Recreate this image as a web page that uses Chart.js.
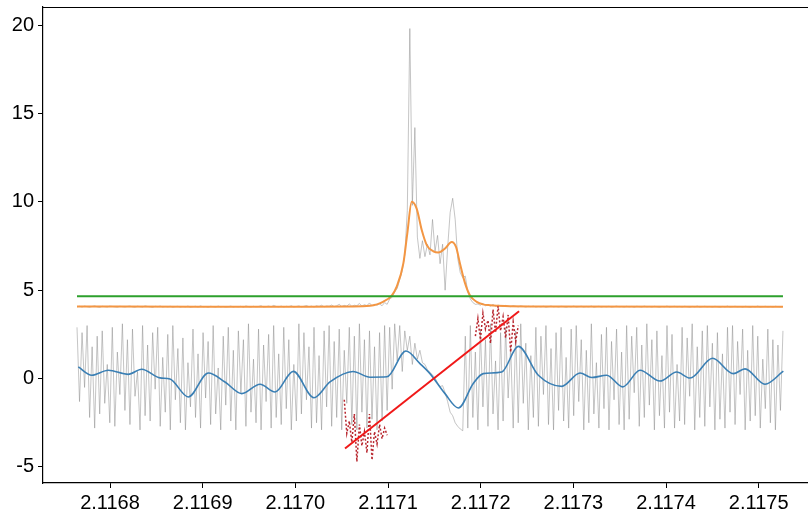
<!DOCTYPE html>
<html>
<head>
<meta charset="UTF-8">
<title>Line fit</title>
<script src="https://cdn.jsdelivr.net/npm/chart.js"></script>
<style>
  html, body { margin: 0; padding: 0; background: #fff; overflow: hidden; }
  #wrap { width: 818px; height: 512px; }
</style>
</head>
<body>
<div id="wrap"><canvas id="chart" width="818" height="512"></canvas></div>
<script>
// wavelength grid of the spectrum
const waveStart = 2.1167644;
const waveStep = 0.0000027207;

// observed spectrum (upper grey)
const fluxObs = [
  4.06, 4.09, 4.05, 4.10, 4.07, 4.04, 4.08, 4.11, 4.06, 4.03, 4.09, 4.07, 4.05, 4.10, 4.08, 4.06, 4.04, 4.09, 4.07, 4.05,
  4.08, 4.10, 4.06, 4.04, 4.09, 4.07, 4.05, 4.11, 4.08, 4.06, 4.03, 4.09, 4.07, 4.10, 4.05, 4.08, 4.06, 4.09, 4.04, 4.07,
  4.09, 4.05, 4.08, 4.06, 4.10, 4.04, 4.07, 4.09, 4.05, 4.11, 4.06, 4.08, 4.04, 4.09, 4.07, 4.05, 4.10, 4.06, 4.08, 4.05,
  4.07, 4.10, 4.05, 4.08, 4.06, 4.09, 4.04, 4.11, 4.07, 4.05, 4.09, 4.06, 4.08, 4.12, 4.05, 4.07, 4.10, 4.06, 4.14, 4.08,
  4.06, 4.10, 4.05, 4.09, 4.07, 4.12, 4.05, 4.08, 4.11, 4.06, 4.09, 4.13, 4.07, 4.10, 4.05, 4.12, 4.08, 4.15, 4.06, 4.11,
  4.09, 4.16, 4.07, 4.12, 4.20, 4.08, 4.14, 4.10, 4.22, 4.09, 4.15, 4.12, 4.25, 4.10, 4.18, 4.13, 4.28, 4.12, 4.20,
  4.15, 4.22, 4.12, 4.30, 4.20, 4.50, 4.60, 4.90, 5.10, 5.60, 6.10, 7.00, 9.50, 19.8, 9.8, 14.2, 8.0, 6.8, 7.8, 6.9,
  7.6, 7.0, 9.0, 7.2, 8.1, 6.5, 7.6, 5.0, 7.4, 9.4, 10.2, 9.0, 6.8, 6.0, 5.7, 5.8, 4.9, 4.5, 4.3, 4.2,
  4.22, 4.15, 4.25, 4.12, 4.18, 4.10, 4.20, 4.09, 4.16, 4.12, 4.08, 4.14, 4.10, 4.07, 4.12, 4.09, 4.06, 4.11, 4.08, 4.05,
  4.09, 4.07, 4.10, 4.05, 4.08, 4.06, 4.09, 4.04, 4.07, 4.10, 4.06, 4.08, 4.05, 4.09, 4.07, 4.04, 4.08, 4.06, 4.10, 4.05,
  4.07, 4.09, 4.05, 4.08, 4.06, 4.10, 4.04, 4.07, 4.09, 4.05, 4.08, 4.06, 4.09, 4.04, 4.07, 4.10, 4.06, 4.08, 4.05, 4.09,
  4.06, 4.08, 4.04, 4.09, 4.07, 4.05, 4.10, 4.06, 4.08, 4.05, 4.09, 4.07, 4.04, 4.08, 4.06, 4.10, 4.05, 4.07, 4.09, 4.06,
  4.08, 4.05, 4.09, 4.07, 4.04, 4.08, 4.06, 4.10, 4.05, 4.07, 4.09, 4.06, 4.08, 4.05, 4.09, 4.07, 4.04, 4.08, 4.06, 4.10,
  4.05, 4.07, 4.09, 4.06, 4.08, 4.05, 4.09, 4.07, 4.04, 4.08, 4.06, 4.10, 4.05, 4.07, 4.09, 4.06, 4.08, 4.05, 4.09, 4.07,
  4.06, 4.08
];

// lower grey trace
const fluxLow = [
  2.9, -1.3, 2.6, -0.5, 3.0, -2.2, 1.8, -2.8, 2.4, -2.0, 2.7, -1.4, 0.8, -2.5, 2.9, -2.7, 1.5, -0.9, 3.1, -1.8,
  2.2, -2.6, 2.8, -1.0, 0.4, -2.9, 3.0, -2.1, 1.9, -2.4, 2.6, -0.6, 2.9, -2.7, 1.2, -1.9, 2.5, -2.9, 3.0, -1.2,
  1.7, -2.5, 2.3, -2.9, 0.9, -1.6, 2.8, -2.2, 1.4, -2.8, 2.6, -1.1, 2.1, -2.6, 3.0, -2.0, 0.6, -2.9, 2.4, -1.5,
  2.9, -2.4, 1.6, -2.9, 2.7, -0.8, 2.2, -2.7, 3.1, -1.9, 1.1, -2.5, 2.8, -2.9, 1.9, -1.3, 2.5, -2.8, 3.0, -2.2,
  1.4, -2.6, 2.9, -1.7, 2.2, -2.9, 0.8, -2.4, 3.1, -2.0, 2.6, -1.2, 1.8, -2.8, 2.9, -2.5, 1.3, -2.9, 2.7, -1.6,
  3.0, -2.7, 2.1, -2.2, 2.8, -2.9, 1.6, -1.4, 2.9, -2.6, 2.4, -2.9, 3.1, -1.9, 2.2, -2.8, 2.7, -2.3, 1.8, -2.9,
  2.6, -2.4, 3.0, -1.8, 2.9, -0.6, 3.1, 1.0, 3.0, 0.4, 2.7, 1.6, 2.4, 0.8, 2.0, 1.1, 1.6, 0.9, 0.8, 0.5,
  0.35, 0.2, 0.05, -0.25, -0.45, -0.4, -0.8, -1.3, -1.9, -2.1, -2.5, -2.7, -2.85, -2.95,
  2.4, -2.8, 3.0, -2.2, 1.5, -2.9, 2.8, -1.6, 2.2, -2.7, 3.1, -2.0, 1.0, -2.9, 2.6, -2.4, 2.9, -1.1, 1.8, -2.8,
  2.7, -2.5, 3.1, -1.4, 2.0, -2.9, 1.3, -2.2, 2.9, -2.7, 2.4, -0.9, 3.0, -2.6, 1.7, -2.9, 2.6, -1.8, 2.9, -2.4,
  1.2, -2.8, 2.8, -2.1, 3.0, -1.3, 2.2, -2.9, 1.6, -2.5, 3.1, -2.0, 0.9, -2.8, 2.5, -1.7, 2.9, -2.9, 2.1, -1.2,
  2.8, -2.6, 1.5, -2.9, 3.0, -2.3, 2.4, -0.8, 2.9, -2.7, 1.9, -2.2, 3.1, -1.5, 2.2, -2.9, 2.7, -2.1, 1.3, -2.8,
  3.0, -1.9, 2.5, -2.8, 0.8, -2.4, 2.9, -2.6, 2.3, -1.0, 3.1, -2.9, 1.8, -2.2, 2.7, -2.7, 3.0, -1.6, 2.0, -2.9,
  2.6, -2.3, 1.4, -2.8, 2.9, -1.9, 3.0, -2.6, 2.1, -0.9, 2.8, -2.9, 1.6, -2.4, 3.0, -2.1, 2.4, -2.8, 1.1, -1.7,
  2.8, -2.5, 2.2, -2.9, 1.9, -1.8, 2.7
];

// model fit (orange)
const fitWave = [
  2.1167644, 2.1168971, 2.1170050, 2.1170590, 2.1170806, 2.1170881, 2.1170946, 2.1171040, 2.1171094, 2.1171165,
  2.1171208, 2.1171256, 2.1171310, 2.1171364, 2.1171418, 2.1171489, 2.1171543, 2.1171615, 2.1171687, 2.1171734,
  2.1171777, 2.1171831, 2.1171885, 2.1171957, 2.1172025, 2.1172101, 2.1172262, 2.1172532, 2.1175262
];
const fitFlux = [
  4.08, 4.07, 4.07, 4.08, 4.12, 4.20, 4.34, 4.70, 5.20, 6.50,
  8.20, 10.0, 9.60, 8.40, 7.55, 7.20, 7.13, 7.36, 7.73, 7.45,
  6.50, 5.40, 4.70, 4.34, 4.20, 4.15, 4.10, 4.08, 4.07
];

// continuum level (green)
const contWave = [2.1167644, 2.1175262];
const contLevel = [4.66, 4.66];

// smoothed lower trace (blue)
const smoothWave = [
  2.1167658, 2.1167803, 2.1167982, 2.1168197, 2.1168342, 2.1168540, 2.1168647, 2.1168845, 2.1169061, 2.1169241,
  2.1169421, 2.1169619, 2.1169781, 2.1169978, 2.1170201, 2.1170374, 2.1170622, 2.1170806, 2.1170989, 2.1171194,
  2.1171345, 2.1171453, 2.1171615, 2.1171759, 2.1171920, 2.1172028, 2.1172227, 2.1172406, 2.1172622, 2.1172874,
  2.1173072, 2.1173198, 2.1173360, 2.1173533, 2.1173719, 2.1173935, 2.1174115, 2.1174259, 2.1174502, 2.1174726,
  2.1174852, 2.1175068, 2.1175266
];
const smoothVal = [
  0.66, 0.19, 0.47, 0.24, 0.53, 0.04, -0.02, -1.04, 0.32, -0.19,
  -0.85, -0.32, -0.76, 0.41, -1.08, -0.19, 0.40, 0.08, 0.10, 1.56,
  0.85, 0.28, -0.85, -1.66, -0.28, 0.28, 0.37, 1.82, 0.19, -0.44,
  0.32, 0.06, 0.19, -0.47, 0.47, -0.14, 0.37, 0.03, 1.15, 0.28,
  0.55, -0.32, 0.42
];

// linear trend (red)
const trendWave = [2.1170536, 2.1172414];
const trendVal = [-3.95, 3.81];

// dotted red segments, starting at grid index
const dotsAFirst = 106;
const dotsA = [-1.2, -3.1, -2.4, -3.6, -2.0, -4.7, -2.6, -3.8, -3.0, -4.2, -2.0, -4.6, -3.0, -3.7, -2.6, -3.4, -2.8, -3.2];
const dotsBFirst = 158;
const dotsB = [2.4, 3.4, 2.2, 3.7, 2.8, 3.3, 2.0, 3.9, 2.6, 4.1, 2.7, 3.5, 2.3, 3.6, 1.5, 3.2, 2.1, 3.0];

const xTicks = [2.1168, 2.1169, 2.1170, 2.1171, 2.1172, 2.1173, 2.1174, 2.1175];
const yTicks = [-5, 0, 5, 10, 15, 20];

const wave = fluxObs.map((_, i) => waveStart + i * waveStep);
const pairs = (xs, ys) => ys.map((y, i) => ({ x: xs[i], y: y }));
const onGrid = (first, ys) => ys.map((y, i) => ({ x: wave[first + i], y: y }));

const font = { family: "'Liberation Sans', Arial, sans-serif", size: 20 };

const topSpine = {
  id: 'topSpine',
  afterDraw(chart) {
    const { ctx, chartArea } = chart;
    ctx.save();
    ctx.strokeStyle = '#000';
    ctx.lineWidth = 1.2;
    ctx.beginPath();
    ctx.moveTo(chartArea.left, chartArea.top + 0.5);
    ctx.lineTo(chartArea.right, chartArea.top + 0.5);
    ctx.stroke();
    ctx.restore();
  }
};

new Chart(document.getElementById('chart'), {
  type: 'line',
  data: {
    datasets: [
      { data: pairs(wave, fluxObs), borderColor: 'rgba(140,140,140,0.5)', borderWidth: 1, order: 7 },
      { data: pairs(wave, fluxLow), borderColor: 'rgba(140,140,140,0.5)', borderWidth: 1, order: 6 },
      { data: pairs(fitWave, fitFlux), borderColor: '#f39643', borderWidth: 2, cubicInterpolationMode: 'monotone', order: 5 },
      { data: pairs(contWave, contLevel), borderColor: '#2ca02c', borderWidth: 2, order: 4 },
      { data: pairs(smoothWave, smoothVal), borderColor: '#3a7fb4', borderWidth: 1.6, cubicInterpolationMode: 'monotone', order: 3 },
      { data: onGrid(dotsAFirst, dotsA), borderColor: '#b8262e', borderWidth: 1.5, borderDash: [2, 2], order: 2 },
      { data: onGrid(dotsBFirst, dotsB), borderColor: '#b8262e', borderWidth: 1.5, borderDash: [2, 2], order: 2 },
      { data: pairs(trendWave, trendVal), borderColor: '#f01818', borderWidth: 2, order: 1 }
    ]
  },
  options: {
    responsive: false,
    animation: false,
    elements: { point: { radius: 0 }, line: { tension: 0 } },
    layout: { padding: { top: 7, right: 0, left: 0, bottom: 0 } },
    plugins: { legend: { display: false }, tooltip: { enabled: false } },
    scales: {
      x: {
        type: 'linear',
        min: 2.1167277,
        max: 2.1175640,
        afterBuildTicks: s => { s.ticks = xTicks.map(v => ({ value: v })); },
        afterFit: s => { s.height = 29; s.paddingLeft = 0; s.paddingRight = 0; },
        ticks: { callback: v => v.toFixed(4), color: '#000', font: font, padding: 3, maxRotation: 0, autoSkip: false },
        grid: { drawOnChartArea: false, tickLength: 5, tickColor: '#000' },
        border: { color: '#000', width: 1.2 }
      },
      y: {
        min: -5.906,
        max: 21.02,
        afterBuildTicks: s => { s.ticks = yTicks.map(v => ({ value: v })); },
        afterFit: s => { s.width = 43; s.paddingTop = 0; s.paddingBottom = 0; },
        ticks: { callback: v => String(v), color: '#000', font: font, padding: 4 },
        grid: { drawOnChartArea: false, tickLength: 5, tickColor: '#000' },
        border: { color: '#000', width: 1.2 }
      }
    }
  },
  plugins: [topSpine]
});
</script>
</body>
</html>
